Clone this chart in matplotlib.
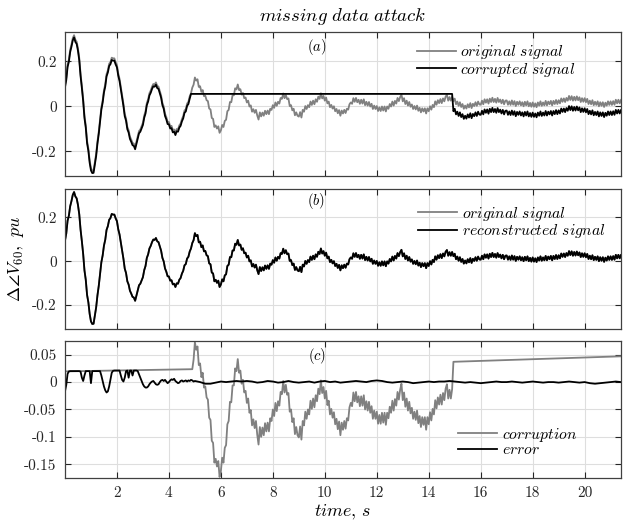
import numpy as np
import matplotlib
matplotlib.use("Agg")
import matplotlib.pyplot as plt

# -----------------------------
# Measured angle deviation (pu), sampled every 0.05 s from t = 0 to 21.4 s
# -----------------------------
dt = 0.05
original = np.array([
    0.094, 0.127, 0.185, 0.208, 0.251, 0.275, 0.303, 0.316, 0.296, 0.287, 0.257, 0.214, 0.144, 0.091, 0.033, -0.042, -0.085, -0.154, -0.188, -0.241,
    -0.275, -0.287, -0.286, -0.248, -0.211, -0.156, -0.113, -0.058, -0.005, 0.026, 0.071, 0.098, 0.143, 0.160, 0.189, 0.197, 0.216, 0.213, 0.213, 0.196,
    0.183, 0.146, 0.122, 0.085, 0.047, 0.011, -0.034, -0.054, -0.092, -0.107, -0.135, -0.148, -0.163, -0.166, -0.181, -0.158, -0.134, -0.110, -0.103, -0.088,
    -0.073, -0.041, -0.022, 0.015, 0.031, 0.058, 0.070, 0.087, 0.099, 0.097, 0.106, 0.091, 0.087, 0.068, 0.048, 0.015, -0.001, -0.033, -0.048, -0.069,
    -0.070, -0.089, -0.087, -0.106, -0.103, -0.118, -0.101, -0.103, -0.085, -0.077, -0.057, -0.044, -0.019, -0.013, 0.012, 0.020, 0.044, 0.058, 0.083, 0.096,
    0.128, 0.114, 0.120, 0.086, 0.089, 0.064, 0.072, 0.045, 0.047, 0.027, 0.023, -0.010, -0.014, -0.052, -0.056, -0.092, -0.085, -0.099, -0.089, -0.118,
    -0.107, -0.083, -0.092, -0.065, -0.060, -0.022, -0.016, 0.019, 0.018, 0.049, 0.049, 0.080, 0.075, 0.097, 0.072, 0.076, 0.052, 0.059, 0.036, 0.039,
    0.017, 0.025, -0.001, 0.004, -0.024, -0.013, -0.029, -0.016, -0.041, -0.059, -0.027, -0.045, -0.028, -0.042, -0.020, -0.035, -0.019, -0.035, -0.011, -0.016,
    0.005, -0.007, 0.017, 0.002, 0.020, 0.012, 0.037, 0.033, 0.057, 0.036, 0.050, 0.032, 0.035, 0.001, 0.005, -0.018, -0.011, -0.040, -0.027, -0.042,
    -0.046, -0.026, -0.050, -0.016, -0.024, 0.001, -0.012, 0.005, -0.004, 0.021, 0.006, 0.025, 0.009, 0.031, 0.020, 0.043, 0.033, 0.058, 0.035, 0.046,
    0.025, 0.039, 0.013, 0.021, -0.004, 0.006, -0.010, 0.000, -0.022, -0.012, -0.031, -0.017, -0.042, -0.019, -0.032, -0.016, -0.030, -0.011, -0.015, 0.009,
    0.017, 0.011, 0.036, 0.020, 0.037, 0.018, 0.029, 0.011, 0.029, 0.012, 0.031, 0.005, 0.020, 0.003, 0.019, -0.001, 0.011, -0.012, 0.003, -0.012,
    0.001, -0.021, -0.005, -0.021, -0.001, -0.019, -0.001, -0.023, -0.001, -0.011, 0.010, -0.001, 0.021, 0.003, 0.024, 0.012, 0.037, 0.023, 0.041, 0.052,
    0.022, 0.036, 0.010, 0.025, 0.003, 0.019, -0.002, 0.008, -0.012, 0.001, -0.014, 0.003, -0.020, -0.007, -0.027, -0.009, -0.023, -0.009, -0.032, -0.009,
    -0.022, 0.000, -0.015, 0.006, -0.004, 0.022, 0.007, 0.027, 0.014, 0.032, 0.014, 0.035, 0.022, 0.043, 0.051, 0.025, 0.041, 0.025, 0.042, 0.023,
    0.034, 0.009, 0.021, 0.002, 0.018, -0.003, 0.010, -0.011, 0.003, -0.010, 0.009, -0.005, 0.014, -0.008, 0.011, 0.001, 0.018, 0.002, 0.021, 0.008,
    0.007, 0.025, 0.009, 0.031, 0.016, 0.031, 0.012, 0.034, 0.019, 0.038, 0.019, 0.033, 0.016, 0.037, 0.019, 0.030, 0.013, 0.029, 0.009, 0.025,
    0.026, 0.007, 0.022, 0.006, 0.026, 0.007, 0.023, 0.001, 0.020, 0.007, 0.022, 0.004, 0.018, 0.000, 0.020, 0.004, 0.022, 0.000, 0.015, -0.002,
    0.017, -0.002, 0.013, -0.004, 0.017, 0.003, 0.022, 0.002, 0.017, 0.004, 0.024, 0.004, 0.021, 0.009, 0.024, 0.004, 0.024, 0.010, 0.028, 0.010,
    0.027, 0.013, 0.035, 0.020, 0.035, 0.019, 0.037, 0.025, 0.046, 0.028, 0.045, 0.025, 0.042, 0.026, 0.044, 0.027, 0.040, 0.019, 0.036, 0.020,
    0.036, 0.018, 0.033, 0.010, 0.025, 0.009, 0.027, 0.005, 0.020, 0.006, 0.022, 0.000, 0.018, 0.002, 0.018, -0.003, 0.016, 0.003, 0.022, 0.006,
    0.022, 0.006, 0.023, 0.007, 0.029, 0.013, 0.029, 0.013, 0.028,
])
t = np.arange(len(original)) * dt

# Attack parameters: small bias before the attack, frozen value while data is
# missing (samples 97..298 -> 4.85 s .. 14.9 s), and an offset afterwards
pre_shift = 0.01
hold_level = 0.055
post_shift = 0.045
i_hold_start, i_hold_end = 97, 298

corrupted = original.copy()
corrupted[:i_hold_start] = original[:i_hold_start] - pre_shift
corrupted[i_hold_start:i_hold_end + 1] = hold_level
corrupted[i_hold_end + 1:] = original[i_hold_end + 1:] - post_shift

# Reconstructed signal sits on top of the original one
reconstructed = original.copy()

# Corruption seen in panel (c): straight ramps outside the missing window
corruption_pre_t = [0.0, 4.9]
corruption_pre = [0.0195, 0.0235]
corruption_post_t = [14.95, 21.4]
corruption_post = [0.037, 0.047]
i_mid = 99  # 4.95 s
corruption_t = np.concatenate([corruption_pre_t, t[i_mid:i_hold_end + 1], corruption_post_t])
corruption = np.concatenate([corruption_pre, original[i_mid:i_hold_end + 1] - hold_level, corruption_post])

# Reconstruction error: 0.05 s steps up to 5 s, then 0.2 s steps
error_early = [
    -0.017, -0.005, 0.015, 0.0195, 0.020, 0.020, 0.020, 0.020, 0.020, 0.020, 0.020, 0.020, 0.019, 0.008, 0.002, 0.012, 0.020, 0.020, 0.020, 0.020,
    -0.002, 0.020, 0.020, 0.020, 0.020, 0.020, 0.020, 0.020, 0.012, 0.002, -0.008, -0.015, -0.019, -0.017, -0.008, 0.005, 0.017, 0.0205, 0.021, 0.021,
    0.021, 0.021, 0.021, 0.012, 0.004, 0.001, 0.008, 0.020, 0.021, 0.008, 0.021, 0.021, 0.012, 0.021, 0.021, 0.021, 0.020, 0.014, 0.008, 0.002,
    -0.004, -0.008, -0.010, -0.010, -0.008, -0.004, -0.001, 0.001, 0.002, -0.001, -0.004, -0.005, -0.004, 0.000, 0.003, 0.004, 0.002, 0.004, 0.001, -0.002,
    0.000, 0.003, 0.005, 0.004, 0.006, 0.002, 0.000, -0.002, -0.001, 0.002, 0.003, 0.001, 0.002, 0.003, 0.001, 0.003, 0.002, 0.004, 0.003, 0.001,
    0.002,
]
error_late = [
    0.000, -0.003, -0.003, -0.001, 0.001, 0.000, 0.001, 0.002, 0.001, 0.002,
    0.001, -0.001, 0.000, 0.002, 0.001, -0.001, 0.000, 0.002, 0.000, -0.001,
    0.000, 0.001, -0.001, 0.001, 0.002, 0.000, 0.001, -0.001, 0.000, 0.001,
    0.002, 0.001, 0.000, 0.002, 0.003, 0.002, 0.000, -0.001, 0.000, 0.001,
    0.000, -0.002, -0.001, 0.000, 0.001, 0.000, 0.001, 0.001, 0.002, 0.001,
    0.000, -0.001, 0.000, -0.001, -0.002, -0.001, 0.000, 0.001, 0.000, 0.000,
    0.001, 0.000, -0.001, 0.000, 0.001, 0.000, -0.001, 0.000, 0.000, -0.001,
    0.000, 0.001, 0.000, -0.001, 0.000, -0.002, -0.003, -0.002, -0.001, 0.000,
    0.001, 0.000,
]
error_t = np.concatenate([np.arange(len(error_early)) * 0.05, 5.2 + np.arange(len(error_late)) * 0.2])
error = np.array(error_early + error_late)

# Ticks
x_ticks = [2, 4, 6, 8, 10, 12, 14, 16, 18, 20]
x_ticklabels = ["2", "4", "6", "8", "10", "12", "14", "16", "18", "20"]
y_ticks_ab = [-0.2, 0, 0.2]
y_ticklabels_ab = ["-0.2", "0", "0.2"]
y_ticks_c = [-0.15, -0.1, -0.05, 0, 0.05]
y_ticklabels_c = ["-0.15", "-0.1", "-0.05", "0", "0.05"]

# -----------------------------
# Figure
# -----------------------------
plt.rcParams["mathtext.fontset"] = "cm"
plt.rcParams["font.family"] = "cmr10"
plt.rcParams["axes.unicode_minus"] = False

gray = "#808080"
lw = 1.3
fig = plt.figure(figsize=(6.23, 5.27), dpi=100)
ax1 = fig.add_axes([0.1043, 0.666, 0.8925, 0.2732])
ax2 = fig.add_axes([0.1043, 0.3757, 0.8925, 0.2657])
ax3 = fig.add_axes([0.1043, 0.093, 0.8925, 0.260])

ax1.plot(t, original, color=gray, lw=lw, label=r"$original\ signal$")
ax1.plot(t, corrupted, color="black", lw=lw, label=r"$corrupted\ signal$")
ax2.plot(t, original, color=gray, lw=lw, label=r"$original\ signal$")
ax2.plot(t, reconstructed, color="black", lw=lw, label=r"$reconstructed\ signal$")
ax3.plot(corruption_t, corruption, color=gray, lw=lw, label=r"$corruption$")
ax3.plot(error_t, error, color="black", lw=lw, label=r"$error$")

for ax in (ax1, ax2, ax3):
    ax.set_xlim(0, 21.4)
    ax.set_xticks(x_ticks)
    ax.grid(True, color="#dedede", lw=0.8)
    ax.set_axisbelow(True)
    ax.tick_params(direction="in", length=4, width=0.8, top=True, right=True,
                   labelsize=11, pad=6, colors="#262626")
    for s in ax.spines.values():
        s.set_color("#404040")
        s.set_linewidth(0.9)

for ax in (ax1, ax2):
    ax.set_ylim(-0.31, 0.33)
    ax.set_yticks(y_ticks_ab)
    ax.set_yticklabels(y_ticklabels_ab)
    ax.set_xticklabels([])

ax3.set_ylim(-0.175, 0.075)
ax3.set_yticks(y_ticks_c)
ax3.set_yticklabels(y_ticklabels_c)
ax3.set_xticklabels(x_ticklabels)

# Panel tags
ax1.text(0.453, 0.896, r"$(a)$", transform=ax1.transAxes, ha="center", va="center", fontsize=10.5)
ax2.text(0.451, 0.916, r"$(b)$", transform=ax2.transAxes, ha="center", va="center", fontsize=10.5)
ax3.text(0.453, 0.890, r"$(c)$", transform=ax3.transAxes, ha="center", va="center", fontsize=10.5)

leg_kw = dict(frameon=False, fontsize=11.3, handlelength=2.5, handletextpad=0.3,
              labelspacing=-0.05, borderaxespad=0.0, loc="center left")
ax1.legend(bbox_to_anchor=(0.621, 0.799), **leg_kw)
ax2.legend(bbox_to_anchor=(0.623, 0.761), **leg_kw)
ax3.legend(bbox_to_anchor=(0.695, 0.266), **leg_kw)

ax1.set_title(r"$missing\ data\ attack$", fontsize=13.5, pad=8)
ax2.set_ylabel(r"$\Delta\angle V_{60},\ pu$", fontsize=13, labelpad=4)
ax3.set_xlabel(r"$time,\,s$", fontsize=13, labelpad=2)

fig.savefig("out.png", dpi=100)
